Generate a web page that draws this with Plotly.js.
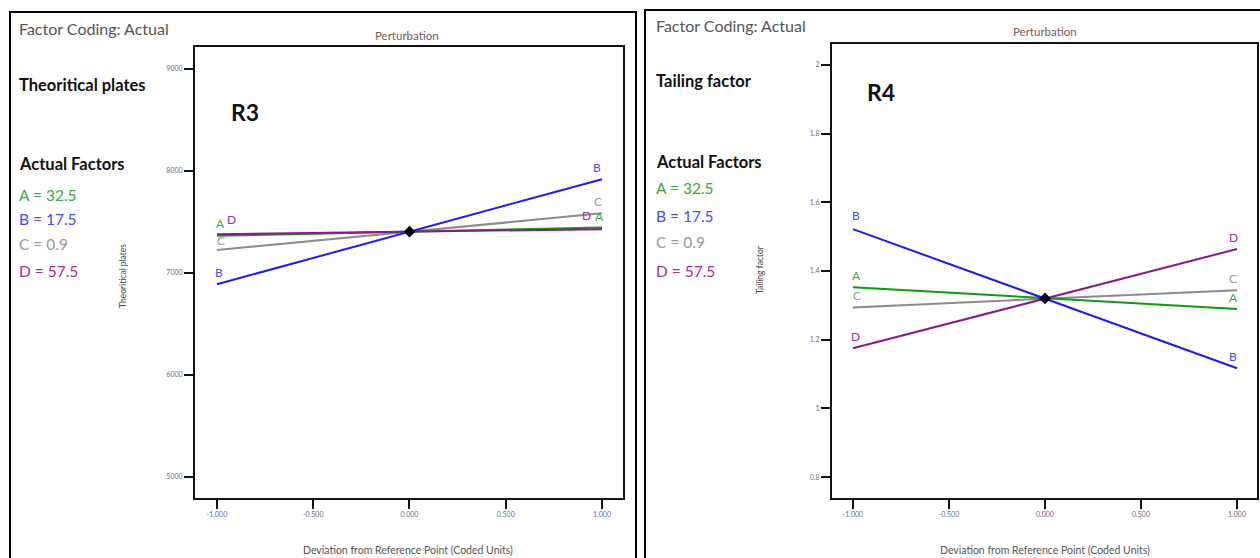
<!DOCTYPE html>
<html>
<head>
<meta charset="utf-8">
<script src="https://cdn.plot.ly/plotly-3.0.1.min.js"></script>
<style>
  html, body { margin: 0; padding: 0; background: #fff; }
  #chart { width: 1260px; height: 558px; }
</style>
</head>
<body>
<div id="chart"></div>
<script>
// Perturbation plots: coded deviation from the reference point for each factor
const factors = ["A", "B", "C", "D"];
const factorSettings = ["A = 32.5", "B = 17.5", "C = 0.9", "D = 57.5"];
const codedX = [-1, 1];
const xTickVals = [-1, -0.5, 0, 0.5, 1];
const xTickText = ["-1.000", "-0.500", "0.000", "0.500", "1.000"];

// R3 – Theoritical plates
const r3Center = 7405;
const r3A = [7365, 7445];
const r3B = [6890, 7920];
const r3C = [7225, 7585];
const r3D = [7380, 7430];
const r3TickVals = [5000, 6000, 7000, 8000, 9000];
const r3TickText = ["5000", "6000", "7000", "8000", "9000"];

// R4 – Tailing factor
const r4Center = 1.32;
const r4A = [1.353, 1.289];
const r4B = [1.522, 1.117];
const r4C = [1.294, 1.344];
const r4D = [1.175, 1.464];
const r4TickVals = [0.8, 1, 1.2, 1.4, 1.6, 1.8, 2];
const r4TickText = ["0.8", "1", "1.2", "1.4", "1.6", "1.8", "2"];

const colors = { A: "#109a10", B: "#1a1aff", C: "#8c8c8c", D: "#8a1a8a" };
const labelColors = { A: "#3aa83a", B: "#4a4aff", C: "#9a9a9a", D: "#a0309a" };
const drawOrder = ["C", "A", "D", "B"];

const W = 1260, H = 558;
const px = x => x / W;
const py = y => 1 - y / H;
const FONT = "Lato, 'Open Sans', sans-serif";

const seriesR3 = { A: r3A, B: r3B, C: r3C, D: r3D };
const seriesR4 = { A: r4A, B: r4B, C: r4C, D: r4D };

const traces = [];
function addPanel(series, center, xa, ya) {
  drawOrder.forEach(f => {
    traces.push({
      x: codedX, y: series[f], xaxis: xa, yaxis: ya,
      type: "scatter", mode: "lines",
      line: { color: colors[f], width: 2 },
      hoverinfo: "skip", showlegend: false
    });
  });
  traces.push({
    x: [0], y: [center], xaxis: xa, yaxis: ya,
    type: "scatter", mode: "markers",
    marker: { symbol: "diamond", size: 9, color: "#000" },
    hoverinfo: "skip", showlegend: false
  });
}
addPanel(seriesR3, r3Center, "x", "y");
addPanel(seriesR4, r4Center, "x2", "y2");

// end-of-line factor letters (pixel offsets keep them apart)
const labelShiftR3 = {
  left:  { A: [4, 0], B: [2, 0], C: [4, -2], D: [15, 3] },
  right: { A: [-3, -1], B: [-5, 0], C: [-4, 0], D: [-16, 2] }
};
const labelShiftR4 = {
  left:  { A: [4, 0], B: [3, 2], C: [4, 0], D: [3, 0] },
  right: { A: [-4, 0], B: [-4, 0], C: [-4, 0], D: [-4, 0] }
};

const annotations = [];
function addLetters(series, shifts, xr, yr) {
  factors.forEach(f => {
    [["left", 0], ["right", 1]].forEach(([side, i]) => {
      const s = shifts[side][f];
      annotations.push({
        x: codedX[i], y: series[f][i], xref: xr, yref: yr,
        text: f, showarrow: false,
        xshift: s[0], yshift: 12 + s[1],
        font: { family: FONT, size: 12, color: labelColors[f] }
      });
    });
  });
}
addLetters(seriesR3, labelShiftR3, "x", "y");
addLetters(seriesR4, labelShiftR4, "x2", "y2");

function txt(text, x, y, opts) {
  annotations.push(Object.assign({
    text: text, x: px(x), y: py(y), xref: "paper", yref: "paper",
    showarrow: false, xanchor: "left", yanchor: "middle", borderpad: 0,
    font: { family: FONT, size: 14, color: "#222" }
  }, opts || {}));
}

function sidePanel(x0, yFactor, response, yResp, yActual, ySettings, tag, tagX, tagY) {
  txt("Factor Coding: Actual", x0 - 2, yFactor, { font: { family: FONT, size: 16, color: "#555" } });
  txt("<b>" + response + "</b>", x0 - 2, yResp, { font: { family: FONT, size: 16.5, color: "#111" } });
  txt("<b>Actual Factors</b>", x0 - 2, yActual, { font: { family: FONT, size: 16.5, color: "#111" } });
  factorSettings.forEach((s, i) => {
    txt(s, x0 - 2, ySettings[i], { font: { family: FONT, size: 15.5, color: labelColors[factors[i]] } });
  });
  txt("<b>" + tag + "</b>", tagX - 2, tagY, { font: { family: FONT, size: 23, color: "#111" } });
}
sidePanel(20, 28, "Theoritical plates", 85, 164, [195, 219, 244, 271], "R3", 232, 112);
sidePanel(657, 25, "Tailing factor", 81, 162, [188, 216, 242, 271], "R4", 868, 92);

// plot headers and axis titles
txt("Perturbation", 407, 36, { xanchor: "center", font: { family: FONT, size: 11.5, color: "#7a5a5a" } });
txt("Perturbation", 1045, 32, { xanchor: "center", font: { family: FONT, size: 11.5, color: "#7a5a5a" } });
txt("Deviation from Reference Point (Coded Units)", 408, 550, { xanchor: "center", font: { family: FONT, size: 10.5, color: "#555" } });
txt("Deviation from Reference Point (Coded Units)", 1045, 550, { xanchor: "center", font: { family: FONT, size: 10.5, color: "#555" } });
txt("Theoritical plates", 123, 276, { xanchor: "center", textangle: -90, font: { family: FONT, size: 8.5, color: "#444" } });
txt("Tailing factor", 760, 270, { xanchor: "center", textangle: -90, font: { family: FONT, size: 8.5, color: "#444" } });

function xAxis(domain, range, anchor) {
  return {
    domain: domain, range: range, anchor: anchor,
    showline: true, linecolor: "#111", linewidth: 2, mirror: true,
    ticks: "outside", ticklen: 9, tickwidth: 2, tickcolor: "#111",
    tickvals: xTickVals, ticktext: xTickText,
    tickfont: { family: FONT, size: 7, color: "#6a6a8a" },
    showgrid: false, zeroline: false, fixedrange: true
  };
}
function yAxis(domain, range, anchor, vals, text) {
  return {
    domain: domain, range: range, anchor: anchor,
    showline: true, linecolor: "#111", linewidth: 2, mirror: true,
    ticks: "outside", ticklen: 9, tickwidth: 2, tickcolor: "#111",
    tickvals: vals, ticktext: text,
    tickfont: { family: FONT, size: 7, color: "#6a6a8a" },
    showgrid: false, zeroline: false, fixedrange: true
  };
}

const layout = {
  width: W, height: H,
  margin: { l: 0, r: 0, t: 0, b: 0 },
  paper_bgcolor: "#fff", plot_bgcolor: "#fff",
  showlegend: false,
  xaxis: xAxis([px(195), px(623)], [-1.114, 1.109], "y"),
  yaxis: yAxis([py(498), py(47)], [4794, 9216], "x", r3TickVals, r3TickText),
  xaxis2: xAxis([px(832), px(1257)], [-1.109, 1.104], "y2"),
  yaxis2: yAxis([py(498), py(44)], [0.739, 2.061], "x2", r4TickVals, r4TickText),
  annotations: annotations,
  shapes: [
    { type: "rect", xref: "paper", yref: "paper", x0: px(10), x1: px(636), y0: py(575), y1: py(12),
      line: { color: "#000", width: 2 } },
    { type: "rect", xref: "paper", yref: "paper", x0: px(645), x1: px(1275), y0: py(575), y1: py(10),
      line: { color: "#000", width: 2 } }
  ]
};

Plotly.newPlot("chart", traces, layout, { staticPlot: true, displayModeBar: false });
</script>
</body>
</html>
